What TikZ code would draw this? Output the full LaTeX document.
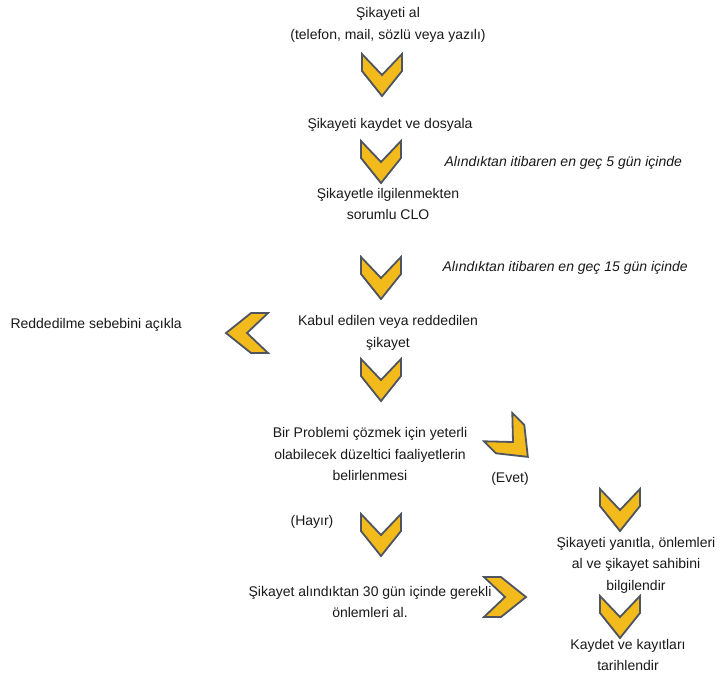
\documentclass[tikz,border=0pt]{standalone}
\usepackage{fontspec}
\setmainfont{Liberation Sans}
\definecolor{chevyellow}{RGB}{243,186,28}
\definecolor{chevedge}{RGB}{78,84,96}
\definecolor{textgray}{RGB}{25,25,25}
\newcommand*{\steptextstyle}{\fontsize{14}{21.5}\selectfont\color{textgray}}
\newcommand*{\notetextstyle}{\fontsize{14}{21.5}\selectfont\itshape\color{textgray}}
\newcommand{\chevron}[3]{%
   % centre x, centre y, rotation
   \begin{scope}[shift={(#1,#2)}, rotate=#3]
      \filldraw[fill=chevyellow, draw=chevedge, line width=1.8pt, line join=miter]
         (-20,-21) -- (0,0) -- (20,-21) -- (20,-4)
         -- (0,21) -- (-20,-4) -- cycle;
   \end{scope}
}

\begin{document}
\begin{tikzpicture}[x=1pt, y=-1pt]

    \useasboundingbox (0,0) rectangle (721,673);

    \node[font=\steptextstyle, align=center] (receive) at (388, 25)
      {Şikayeti al\\ (telefon, mail, sözlü veya yazılı)};
    \chevron{382}{75}{0}

    \node[font=\steptextstyle, align=center] (record) at (390, 125)
      {Şikayeti kaydet ve dosyala};
    \chevron{381}{162}{0}
    \node[font=\notetextstyle, anchor=west] (fivedays) at (441, 163)
      {Alındıktan itibaren en geç 5 gün içinde};

    \node[font=\steptextstyle, align=center] (clo) at (388, 204)
      {Şikayetle ilgilenmekten\\ sorumlu CLO};

    \chevron{381}{278}{0}
    \node[font=\notetextstyle, anchor=west] (fifteendays) at (439, 268)
      {Alındıktan itibaren en geç 15 gün içinde};

    \node[font=\steptextstyle, align=center] (decide) at (388, 333)
      {Kabul edilen veya reddedilen\\ şikayet};
    \chevron{247}{333}{-90}
    \node[font=\steptextstyle, anchor=west] (reject) at (7, 325)
      {Reddedilme sebebini açıkla};

    \chevron{381}{380}{0}
    \node[font=\steptextstyle, align=center] (actions) at (370, 454)
      {Bir Problemi çözmek için yeterli\\ olabilecek düzeltici faaliyetlerin\\ belirlenmesi};

    \chevron{513}{442}{45}
    \node[font=\steptextstyle] (yes) at (510, 479) {(Evet)};

    \node[font=\steptextstyle] (no) at (312, 522) {(Hayır)};
    \chevron{381}{535}{0}

    \node[font=\steptextstyle, align=center] (thirty) at (370, 602)
      {Şikayet alındıktan 30 gün içinde gerekli\\ önlemleri al.};
    \chevron{505}{597}{90}

    \chevron{620}{510}{0}
    \node[font=\steptextstyle, align=center] (reply) at (636, 565)
      {Şikayeti yanıtla, önlemleri\\ al ve şikayet sahibini\\ bilgilendir};

    \chevron{620}{617}{0}
    \node[font=\steptextstyle, align=center] (archive) at (628, 655)
      {Kaydet ve kayıtları\\ tarihlendir};

\end{tikzpicture}
\end{document}
